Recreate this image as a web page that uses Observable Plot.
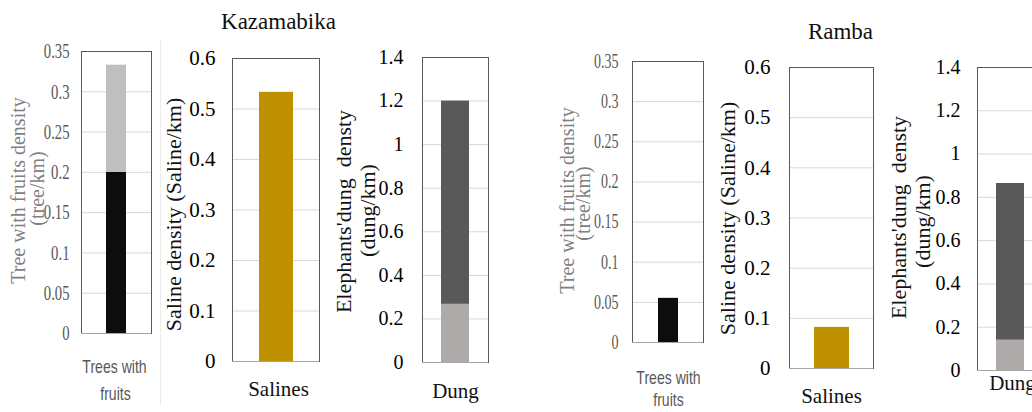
<!DOCTYPE html>
<html>
<head>
<meta charset="utf-8">
<script src="https://cdn.jsdelivr.net/npm/d3@7"></script>
<script src="https://cdn.jsdelivr.net/npm/@observablehq/plot@0.6"></script>
<style>
  body { margin: 0; background: #fff; }
  #chart { position: relative; width: 1032px; height: 412px; overflow: hidden; background: #fff; }
  #chart svg { position: absolute; top: 0; overflow: visible; }
  .sep { position: absolute; left: 160px; top: 40px; width: 1px; height: 365px; background: #ececec; }
</style>
</head>
<body>
<div id="chart"><div class="sep"></div></div>
<script>
// ---------- data ----------
const siteNames = ["Kazamabika", "Ramba"];
const treeCategory = "Trees with fruits";
const treeCategoryLines = ["Trees with", "fruits"];
const salineCategory = "Salines";
const dungCategory = "Dung";
const treeSeries = ["Trees with fruits (lower)", "Trees with fruits (upper)"];
const dungSeries = ["Dung (lower)", "Dung (upper)"];
const treeLowerValues = [0.2, 0.055];
const treeUpperValues = [0.133, 0];
const salineValues = [0.533, 0.082];
const dungLowerValues = [0.267, 0.14];
const dungUpperValues = [0.933, 0.724];
const treeTicks = [0, 0.05, 0.1, 0.15, 0.2, 0.25, 0.3, 0.35];
const salineTicks = [0, 0.1, 0.2, 0.3, 0.4, 0.5, 0.6];
const dungTicks = [0, 0.2, 0.4, 0.6, 0.8, 1, 1.2, 1.4];
const treeAxisTitle = ["Tree with fruits density", "(tree/km)"];
const salineAxisTitle = ["Saline density (Saline/km)"];
const dungAxisTitle = ["Elephants'dung  densty", "(dung/km)"];

// ---------- styles / layout ----------
const treeColors = ["#0d0d0d", "#bfbfbf"];
const salineColors = ["#bf9000"];
const dungColors = ["#aeaaaa", "#595959"];
const SERIF = "Liberation Serif, Times New Roman, serif";
const SANS = "Liberation Sans, Arial, sans-serif";

function rowsFor(category, series, arrays, i) {
  return series.map((s, k) => ({ cat: category, part: s, value: arrays[k][i] }));
}

const panels = [
  { site: 0, kind: "tree", svgLeft: 0, L: 81, R: 151, T: 51, B: 333, padding: 0.556, tickPadding: 12,
    tickSize: 21, tickColor: "#595959", condenseTicks: 0.7,
    titleSize: 20, titleColor: "#7f7f7f", yTitlePos: [[18, 190], [37, 188]],
    xFont: SANS, xSize: 19, xColor: "#595959", condenseX: 0.74, xPos: [[114, 372], [115, 399]] },
  { site: 0, kind: "saline", svgLeft: 160, L: 232, R: 319, T: 58, B: 361, padding: 0.44, tickPadding: 17,
    tickSize: 21, tickColor: "#000", titleSize: 22, titleColor: "#111", yTitlePos: [[173, 214]],
    xFont: SERIF, xSize: 21, xColor: "#111", xPos: [[278, 395]], header: [278, 28] },
  { site: 0, kind: "dung", svgLeft: 330, L: 422, R: 488, T: 57, B: 362, padding: 0.404, tickPadding: 19,
    tickSize: 20, tickColor: "#000", titleSize: 22, titleColor: "#111", yTitlePos: [[343, 211], [367, 210]],
    xFont: SERIF, xSize: 21, xColor: "#111", xPos: [[455, 397]] },
  { site: 1, kind: "tree", svgLeft: 545, L: 632, R: 703, T: 61, B: 342, padding: 0.56, tickPadding: 14,
    tickSize: 20, tickColor: "#595959", condenseTicks: 0.7,
    titleSize: 20, titleColor: "#7f7f7f", yTitlePos: [[567, 200], [583, 203]],
    xFont: SANS, xSize: 19, xColor: "#595959", condenseX: 0.74, xPos: [[668, 383], [668, 405]] },
  { site: 1, kind: "saline", svgLeft: 705, L: 789, R: 873, T: 67, B: 368, padding: 0.41, tickPadding: 19,
    tickSize: 21, tickColor: "#000", titleSize: 22, titleColor: "#111", yTitlePos: [[727, 218]],
    xFont: SERIF, xSize: 21, xColor: "#111", xPos: [[831, 402]], header: [840, 38] },
  { site: 1, kind: "dung", svgLeft: 880, L: 977, R: 1043, T: 67, B: 370, padding: 0.404, tickPadding: 17,
    tickSize: 20, tickColor: "#000", titleSize: 22, titleColor: "#111", yTitlePos: [[898, 217], [922, 221]],
    xFont: SERIF, xSize: 21, xColor: "#111", xPos: [[1012, 389]] }
];

const H = 412;
const fmt = d => `${+d.toFixed(2)}`;

function build(p) {
  let category, series, colors, rows, ticks, title, xLines;
  if (p.kind === "tree") {
    category = treeCategory; series = treeSeries; colors = treeColors;
    rows = rowsFor(category, series, [treeLowerValues, treeUpperValues], p.site);
    ticks = treeTicks; title = treeAxisTitle; xLines = treeCategoryLines;
  } else if (p.kind === "saline") {
    category = salineCategory; series = [salineCategory]; colors = salineColors;
    rows = rowsFor(category, series, [salineValues], p.site);
    ticks = salineTicks; title = salineAxisTitle; xLines = [salineCategory];
  } else {
    category = dungCategory; series = dungSeries; colors = dungColors;
    rows = rowsFor(category, series, [dungLowerValues, dungUpperValues], p.site);
    ticks = dungTicks; title = dungAxisTitle; xLines = [dungCategory];
  }
  const ml = p.L - p.svgLeft, mr = 12;
  const width = ml + (p.R - p.L) + mr;
  const midY = (p.T + p.B) / 2, midX = (p.L + p.R) / 2;

  const marks = [
    Plot.gridY(ticks, { stroke: "#d9d9d9", strokeOpacity: 1 }),
    Plot.barY(rows, { x: "cat", y: "value", fill: "part" }),
    Plot.frame({ stroke: "#595959" }),
    Plot.ruleY([0], { stroke: "#a6a6a6" }),
    Plot.axisY(ticks, { tickSize: 0, tickPadding: p.tickPadding, tickFormat: fmt, label: null,
      fontSize: p.tickSize, fontFamily: SERIF, fill: p.tickColor })
  ];
  title.forEach((t, i) => {
    const [tx, ty] = p.yTitlePos[i];
    marks.push(Plot.text([t], { text: d => d, frameAnchor: "left", rotate: -90,
      dx: tx - p.L, dy: ty - midY, textAnchor: "middle", lineAnchor: "middle",
      fontSize: p.titleSize, fontFamily: SERIF, fill: p.titleColor }));
  });
  xLines.forEach((t, i) => {
    const [lx, ly] = p.xPos[i];
    marks.push(Plot.text([t], { text: d => d, frameAnchor: "bottom",
      dx: lx - midX, dy: ly - p.B, textAnchor: "middle", lineAnchor: "bottom",
      fontSize: p.xSize, fontFamily: p.xFont, fill: p.xColor }));
  });
  if (p.header) {
    const [hx, hy] = p.header;
    marks.push(Plot.text([siteNames[p.site]], { text: d => d, frameAnchor: "top",
      dx: hx - midX, dy: hy - p.T, textAnchor: "middle", lineAnchor: "bottom",
      fontSize: 23, fontFamily: SERIF, fill: "#111" }));
  }

  const svg = Plot.plot({
    width, height: H,
    marginLeft: ml, marginRight: mr, marginTop: p.T, marginBottom: H - p.B,
    x: { domain: [category], padding: p.padding, axis: null },
    y: { domain: [0, ticks[ticks.length - 1]] },
    color: { domain: series, range: colors },
    style: { background: "transparent", overflow: "visible", fontFamily: SERIF, fontSize: "20px" },
    marks
  });
  svg.style.left = p.svgLeft + "px";
  return svg;
}

function condense(texts, factor) {
  texts.forEach(t => {
    const len = t.getComputedTextLength();
    if (len > 0) {
      t.setAttribute("textLength", (len * factor).toFixed(1));
      t.setAttribute("lengthAdjust", "spacingAndGlyphs");
    }
  });
}

const chart = document.getElementById("chart");
panels.forEach(p => {
  const svg = build(p);
  chart.appendChild(svg);
  if (p.condenseTicks) condense(svg.querySelectorAll('g[aria-label="y-axis tick label"] text'), p.condenseTicks);
  if (p.condenseX) condense([...svg.querySelectorAll("text")].filter(t => treeCategoryLines.includes(t.textContent)), p.condenseX);
});
</script>
</body>
</html>
